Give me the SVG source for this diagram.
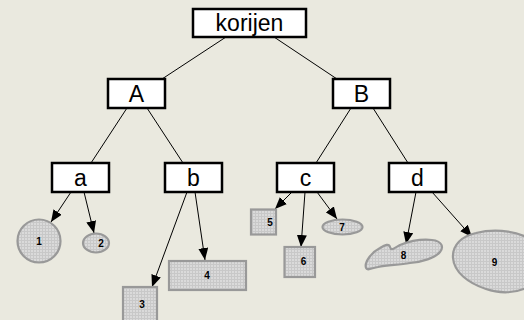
<svg xmlns="http://www.w3.org/2000/svg" width="524" height="320" viewBox="0 0 524 320">
<defs>
<pattern id="grid" width="3" height="3" patternUnits="userSpaceOnUse">
<rect width="3" height="3" fill="#dadada"/>
<path d="M0 0.5H3M0.5 0V3" stroke="#c8c8c8" stroke-width="1"/>
</pattern>
<marker id="arr" viewBox="0 0 12 10" refX="12" refY="5" markerWidth="12" markerHeight="10" markerUnits="userSpaceOnUse" orient="auto">
<path d="M0 0L12 5L0 10Z" fill="#000"/>
</marker>
<style>
.box{fill:#fff;stroke:#000;stroke-width:2.5}
.lbl{font-family:"Liberation Sans",Arial,sans-serif;font-size:23px;text-anchor:middle;fill:#000}
.shape{fill:url(#grid);stroke:#999;stroke-width:2.2}
.num{font-family:"Liberation Sans",Arial,sans-serif;font-size:10px;font-weight:bold;text-anchor:middle;fill:#000}
.edge{stroke:#000;stroke-width:1;fill:none}
.arrow{stroke:#000;stroke-width:1;fill:none;marker-end:url(#arr)}
</style>
</defs>
<rect width="524" height="320" fill="#eae9df"/>
<g id="connectors">
<line class="edge" x1="226" y1="37" x2="162" y2="79"/>
<line class="edge" x1="274" y1="37" x2="337" y2="79"/>
<line class="edge" x1="127" y1="108" x2="91" y2="163"/>
<line class="edge" x1="147" y1="108" x2="183" y2="163"/>
<line class="edge" x1="351" y1="108" x2="316" y2="163"/>
<line class="edge" x1="373" y1="108" x2="408" y2="163"/>
<line class="arrow" x1="71" y1="192" x2="51" y2="222"/>
<line class="arrow" x1="84" y1="192" x2="94" y2="233"/>
<line class="arrow" x1="187" y1="192" x2="152" y2="287"/>
<line class="arrow" x1="195" y1="192" x2="205" y2="260"/>
<line class="arrow" x1="292" y1="192" x2="275" y2="209"/>
<line class="arrow" x1="305" y1="192" x2="301" y2="247"/>
<line class="arrow" x1="317" y1="192" x2="337" y2="219"/>
<line class="arrow" x1="416" y1="192" x2="406" y2="244"/>
<line class="arrow" x1="432" y1="192" x2="472" y2="237"/>
</g>
<g id="korijen"><rect class="box" x="193" y="9" width="113" height="28"/><text class="lbl" x="249.5" y="31">korijen</text></g>
<g id="A"><rect class="box" x="108" y="79" width="57" height="29"/><text class="lbl" x="136.5" y="102">A</text></g>
<g id="B"><rect class="box" x="333" y="79" width="57" height="29"/><text class="lbl" x="361.5" y="102">B</text></g>
<g id="a"><rect class="box" x="52" y="163" width="57" height="29"/><text class="lbl" x="80.5" y="186">a</text></g>
<g id="b"><rect class="box" x="165" y="163" width="57" height="29"/><text class="lbl" x="193.5" y="186">b</text></g>
<g id="c"><rect class="box" x="277" y="163" width="57" height="29"/><text class="lbl" x="305.5" y="186">c</text></g>
<g id="d"><rect class="box" x="389" y="163" width="57" height="29"/><text class="lbl" x="417.5" y="186">d</text></g>
<g id="n1"><circle class="shape" cx="39" cy="241" r="21.5"/><text class="num" x="39" y="245">1</text></g>
<g id="n2"><ellipse class="shape" cx="96" cy="243" rx="13" ry="9.5"/><text class="num" x="101" y="247">2</text></g>
<g id="n3"><rect class="shape" x="123" y="287" width="34" height="36"/><text class="num" x="142" y="308">3</text></g>
<g id="n4"><rect class="shape" x="169" y="261" width="77" height="29"/><text class="num" x="207" y="279">4</text></g>
<g id="n5"><rect class="shape" x="251" y="209.5" width="25" height="25"/><text class="num" x="270" y="225.5">5</text></g>
<g id="n6"><rect class="shape" x="284.5" y="247" width="30.5" height="30"/><text class="num" x="303.5" y="265">6</text></g>
<g id="n7"><ellipse class="shape" cx="342.5" cy="227" rx="20" ry="7.5"/><text class="num" x="342" y="231">7</text></g>
<g id="n8"><path class="shape" d="M366 268 C364 262 372 252 380 248 C385 245 389 243 390 247 C391 251 393 249 400 245 C410 241 422 239 432 240 C442 241 444 247 440 252 C435 258 422 262 410 263 C398 265 388 265 378 267 C372 268 367 271 366 268 Z"/><text class="num" x="403.5" y="259">8</text></g>
<g id="n9"><path class="shape" d="M453 258 C452 245 462 236 476 233 C492 229 512 230 526 237 L526 288 C516 293 500 294 486 289 C468 283 454 272 453 258 Z"/><text class="num" x="494.5" y="266">9</text></g>
</svg>
